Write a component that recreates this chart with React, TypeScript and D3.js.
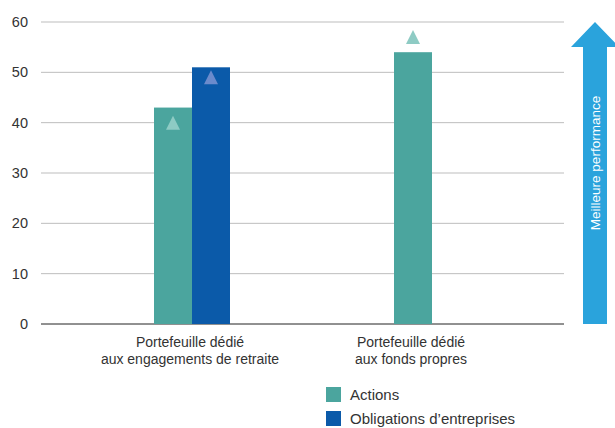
import React from "react";
import * as d3 from "d3";

const categories = ["Portefeuille dédié|aux engagements de retraite", "Portefeuille dédié|aux fonds propres"];
const seriesNames = ["Actions", "Obligations d’entreprises"];
const actionsValues: (number | null)[] = [43, 54];
const obligationsValues: (number | null)[] = [51, null];
const actionsMarkers: (number | null)[] = [40, 57];
const obligationsMarkers: (number | null)[] = [49, null];
const yTicks = [0, 10, 20, 30, 40, 50, 60];
const arrowLabel = "Meilleure performance";

const W = 615;
const H = 428;
const FONT = "'Liberation Sans', Arial, sans-serif";
const barColors = ["#4ba59e", "#0b5aa9"];
const markerColors = ["#8ecbc4", "#6b8bcc"];

export default function App() {
  const y = d3.scaleLinear().domain([0, 60]).range([324, 22]);
  const x = d3.scaleBand().domain(categories).range([81.5, 523.5]).paddingInner(0);
  const barW = 38;
  const values = [actionsValues, obligationsValues];
  const markers = [actionsMarkers, obligationsMarkers];
  const gridX0 = 41;
  const gridX1 = 564;

  const tri = (cx: number, cy: number, w: number, h: number) => {
    const p = d3.path();
    p.moveTo(cx, cy - h / 2);
    p.lineTo(cx + w / 2, cy + h / 2);
    p.lineTo(cx - w / 2, cy + h / 2);
    p.closePath();
    return p.toString();
  };

  const groups = categories.map((c, ci) => {
    const present = seriesNames.map((_, si) => si).filter((si) => values[si][ci] != null);
    const sub = d3
      .scaleBand<number>()
      .domain(present)
      .range([-(present.length * barW) / 2, (present.length * barW) / 2]);
    const cx = (x(c) ?? 0) + x.bandwidth() / 2;
    return { c, ci, present, sub, cx };
  });

  // arrow geometry
  const ax = 595;
  const shaftW = 24;
  const headW = 48;
  const aTop = y(60);
  const headBase = 47;
  const aBottom = y(0);
  const arrow = d3.path();
  arrow.moveTo(ax, aTop);
  arrow.lineTo(ax + headW / 2, headBase);
  arrow.lineTo(ax + shaftW / 2, headBase);
  arrow.lineTo(ax + shaftW / 2, aBottom);
  arrow.lineTo(ax - shaftW / 2, aBottom);
  arrow.lineTo(ax - shaftW / 2, headBase);
  arrow.lineTo(ax - headW / 2, headBase);
  arrow.closePath();

  return (
    <svg width={W} height={H} style={{ position: "absolute", left: 0, top: 0, background: "#fff" }} fontFamily={FONT}>
      {yTicks.map((t) => (
        <g key={t}>
          <line x1={gridX0} x2={gridX1} y1={y(t)} y2={y(t)} stroke={t === 0 ? "#222" : "#bdbdbd"} strokeWidth={1} />
          <text x={28} y={y(t)} dy="0.35em" textAnchor="end" fontSize={14.5} fill="#333">
            {t}
          </text>
        </g>
      ))}
      {groups.map((g) =>
        g.present.map((si) => {
          const v = values[si][g.ci] as number;
          const bx = g.cx + (g.sub(si) ?? 0);
          return (
            <rect key={`${g.ci}-${si}`} x={bx} y={y(v)} width={barW} height={y(0) - y(v)} fill={barColors[si]} />
          );
        })
      )}
      {groups.map((g) =>
        g.present.map((si) => {
          const m = markers[si][g.ci];
          if (m == null) return null;
          const bx = g.cx + (g.sub(si) ?? 0) + barW / 2;
          return <path key={`m-${g.ci}-${si}`} d={tri(bx, y(m), 14, 14)} fill={markerColors[si]} />;
        })
      )}
      {groups.map((g) => (
        <text key={`l-${g.ci}`} x={g.cx - 2} y={347} textAnchor="middle" fontSize={14} fill="#333">
          {g.c.split("|").map((line, i) => (
            <tspan key={i} x={g.cx - 2} dy={i === 0 ? 0 : 16.5}>
              {line}
            </tspan>
          ))}
        </text>
      ))}
      {seriesNames.map((s, i) => (
        <g key={s}>
          <rect x={326} y={387 + i * 24} width={15} height={15} fill={barColors[i]} />
          <text x={350} y={400 + i * 24} fontSize={15} fill="#333">
            {s}
          </text>
        </g>
      ))}
      <path d={arrow.toString()} fill="#2aa3dc" />
      <text
        transform={`translate(${ax + 5},${163}) rotate(-90)`}
        textAnchor="middle"
        fontSize={13.5}
        fill="#fff"
      >
        {arrowLabel}
      </text>
    </svg>
  );
}
